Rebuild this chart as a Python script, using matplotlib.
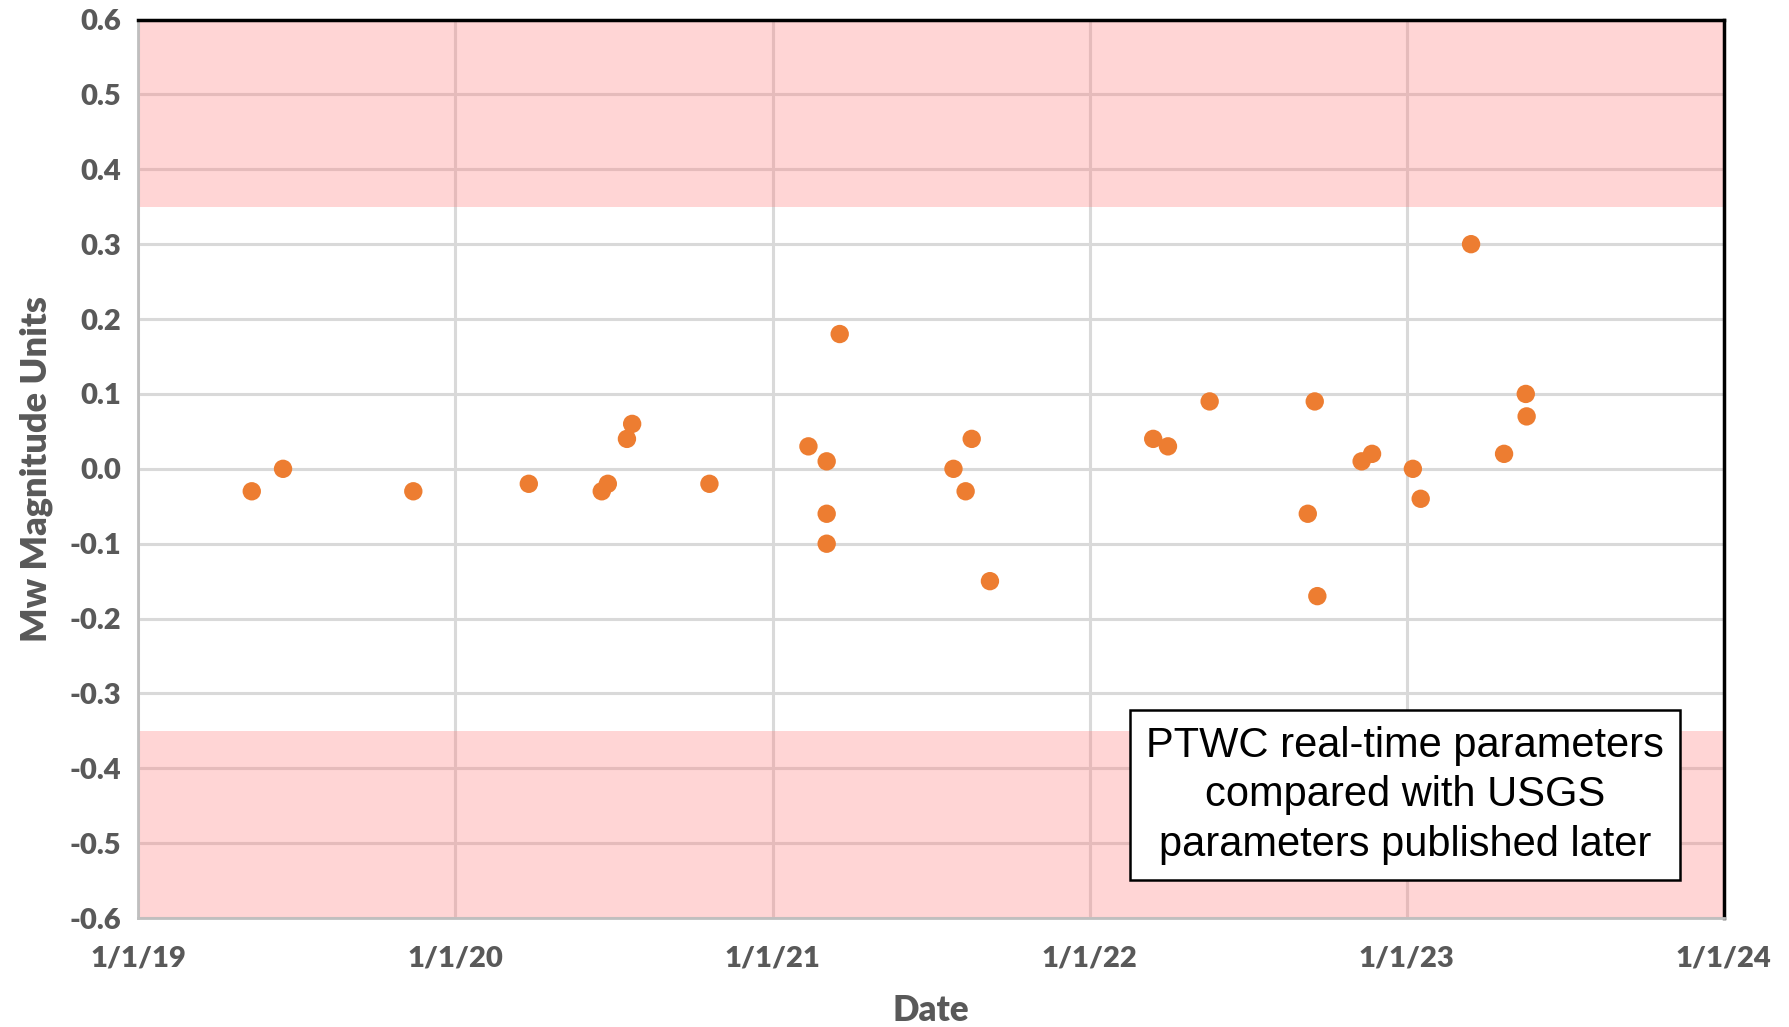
import pandas as pd
import matplotlib.pyplot as plt

# event dates and Mw difference (PTWC real-time minus USGS)
event_dates = [
    "2019-05-12", "2019-06-17", "2019-11-14", "2020-03-26", "2020-06-18",
    "2020-06-25", "2020-07-17", "2020-07-23", "2020-10-20", "2021-02-11",
    "2021-03-04", "2021-03-04", "2021-03-04", "2021-03-19", "2021-07-28",
    "2021-08-11", "2021-08-18", "2021-09-08", "2022-03-15", "2022-04-01",
    "2022-05-19", "2022-09-09", "2022-09-17", "2022-09-20", "2022-11-10",
    "2022-11-22", "2023-01-08", "2023-01-17", "2023-03-16", "2023-04-23",
    "2023-05-18", "2023-05-19",
]
mw_diff = [
    -0.03, 0.00, -0.03, -0.02, -0.03,
    -0.02, 0.04, 0.06, -0.02, 0.03,
    0.01, -0.06, -0.10, 0.18, 0.00,
    -0.03, 0.04, -0.15, 0.04, 0.03,
    0.09, -0.06, 0.09, -0.17, 0.01,
    0.02, 0.00, -0.04, 0.30, 0.02,
    0.10, 0.07,
]
year_ticks = ["2019-01-01", "2020-01-01", "2021-01-01", "2022-01-01", "2023-01-01", "2024-01-01"]
year_labels = ["1/1/19", "1/1/20", "1/1/21", "1/1/22", "1/1/23", "1/1/24"]
y_ticks = [-0.6, -0.5, -0.4, -0.3, -0.2, -0.1, 0.0, 0.1, 0.2, 0.3, 0.4, 0.5, 0.6]
band_limit = 0.35

dates = pd.to_datetime(event_dates)
xt = pd.to_datetime(year_ticks)

fig = plt.figure(figsize=(17.9, 10.27), dpi=100)
ax = fig.add_axes([0.0771, 0.106, 0.8859, 0.875])

ax.set_xlim(xt[0], xt[-1])
ax.set_ylim(-0.6, 0.6)
ax.set_xticks(xt)
ax.set_xticklabels(year_labels)
ax.set_yticks(y_ticks)
ax.set_yticklabels([f"{v:.1f}" for v in y_ticks])

ax.grid(True, color="#d9d9d9", linewidth=2.2, zorder=0)
ax.set_axisbelow(True)

# out-of-tolerance bands
ax.axhspan(band_limit, 0.6, color="#ff8080", alpha=0.33, lw=0, zorder=1)
ax.axhspan(-0.6, -band_limit, color="#ff8080", alpha=0.33, lw=0, zorder=1)

ax.scatter(dates, mw_diff, s=175, color="#ED7D31", edgecolors="none", zorder=3)

for side in ["left", "bottom"]:
    ax.spines[side].set_color("#bfbfbf")
    ax.spines[side].set_linewidth(2)
ax.spines["top"].set_color("black")
ax.spines["top"].set_linewidth(2.5)
ax.spines["right"].set_color("black")
ax.spines["right"].set_linewidth(2.5)

ax.tick_params(length=0, pad=12, labelsize=21, labelcolor="#595959")
for lab in ax.get_xticklabels() + ax.get_yticklabels():
    lab.set_fontfamily("Lato")
    lab.set_fontweight("heavy")
ax.tick_params(axis="x", pad=20)

ax.set_xlabel("Date", fontsize=25, fontweight="heavy", color="#595959", family="Lato", labelpad=16)
ax.set_ylabel("Mw Magnitude Units", fontsize=26, fontweight="heavy", color="#595959", family="Lato", labelpad=12)

ax.text(pd.Timestamp("2023-01-01") - pd.Timedelta(days=2), -0.436,
        "PTWC real-time parameters\ncompared with USGS\nparameters published later",
        ha="center", va="center", fontsize=30, family="Liberation Sans",
        linespacing=1.3, zorder=5,
        bbox=dict(boxstyle="square,pad=0.38", facecolor="white", edgecolor="black", linewidth=1.8))

plt.savefig("out.png", dpi=100)
plt.close()
